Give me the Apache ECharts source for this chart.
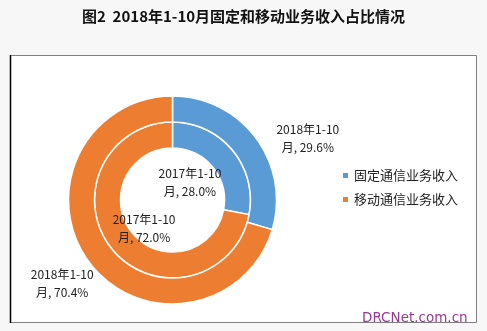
<!DOCTYPE html>
<html>
<head>
<meta charset="utf-8">
<script src="https://cdn.jsdelivr.net/npm/echarts@6/dist/echarts.min.js"></script>
<style>
  html, body { margin: 0; padding: 0; background: #f7f7f7; }
  #chart { width: 487px; height: 331px; }
</style>
</head>
<body>
<div id="chart"></div>
<script>
// Revenue split: fixed vs. mobile telecom business, Jan–Oct
const categories = ['固定通信业务收入', '移动通信业务收入'];
const periods = ['2017年1-10月', '2018年1-10月'];
const share2017 = [28.0, 72.0];
const share2018 = [29.6, 70.4];
const colors = ['#5b9bd5', '#ed7d31'];

const FONT = '"Noto Sans CJK SC", "Microsoft YaHei", sans-serif';

// label text "2017年1-10\n月, 28.0%"
function labelText(period) {
  return function (p) {
    const head = period.slice(0, period.length - 1);
    return head + '\n月, ' + p.value.toFixed(1) + '%';
  };
}

const labelStyle = {
  color: '#222',
  fontFamily: FONT,
  fontSize: 12,
  lineHeight: 18,
  align: 'center'
};

function ringData(values, offsets) {
  return values.map((v, i) => ({
    name: categories[i],
    value: v,
    itemStyle: { color: colors[i] },
    label: { offset: offsets[i] }
  }));
}

const chart = echarts.init(document.getElementById('chart'), null, { renderer: 'canvas' });

chart.setOption({
  backgroundColor: '#f7f7f7',
  animation: false,
  title: {
    text: '图2  2018年1-10月固定和移动业务收入占比情况',
    left: 'center',
    top: 4,
    textStyle: { fontFamily: FONT, fontSize: 15, fontWeight: 'bold', color: '#111' }
  },
  graphic: [
    {
      type: 'rect',
      shape: { x: 10.5, y: 55.5, width: 466, height: 267 },
      style: { fill: '#ffffff', stroke: '#808080', lineWidth: 1 },
      z: -10
    },
    {
      type: 'line',
      shape: { x1: 10.5, y1: 55, x2: 10.5, y2: 323 },
      style: { stroke: '#000', lineWidth: 1.5 },
      z: -9
    },
    {
      type: 'text',
      left: 362,
      top: 311,
      style: { text: 'DRCNet.com.cn', fill: '#963a96', font: '13.5px "DejaVu Sans", sans-serif' },
      z: 10
    }
  ],
  legend: {
    orient: 'vertical',
    left: 336,
    top: 164,
    itemWidth: 7,
    itemHeight: 7,
    itemGap: 11,
    icon: 'rect',
    data: categories,
    textStyle: { fontFamily: FONT, fontSize: 13, color: '#222' }
  },
  series: [
    {
      name: periods[0],
      type: 'pie',
      center: [172.5, 200],
      radius: [52, 78],
      startAngle: 90,
      clockwise: true,
      itemStyle: { borderColor: '#fff', borderWidth: 1.5 },
      label: Object.assign({ show: true, position: 'inside', formatter: labelText(periods[0]) }, labelStyle),
      labelLine: { show: false },
      emphasis: { disabled: true },
      data: ringData(share2017, [[-35, 26], [24, -15]])
    },
    {
      name: periods[1],
      type: 'pie',
      center: [172.5, 200],
      radius: [78, 104],
      startAngle: 90,
      clockwise: true,
      itemStyle: { borderColor: '#fff', borderWidth: 1.5 },
      label: Object.assign({ show: true, position: 'inside', formatter: labelText(periods[1]) }, labelStyle),
      labelLine: { show: false },
      emphasis: { disabled: true },
      data: ringData(share2018, [[60, -5], [-35, 27]])
    }
  ]
});
</script>
</body>
</html>
